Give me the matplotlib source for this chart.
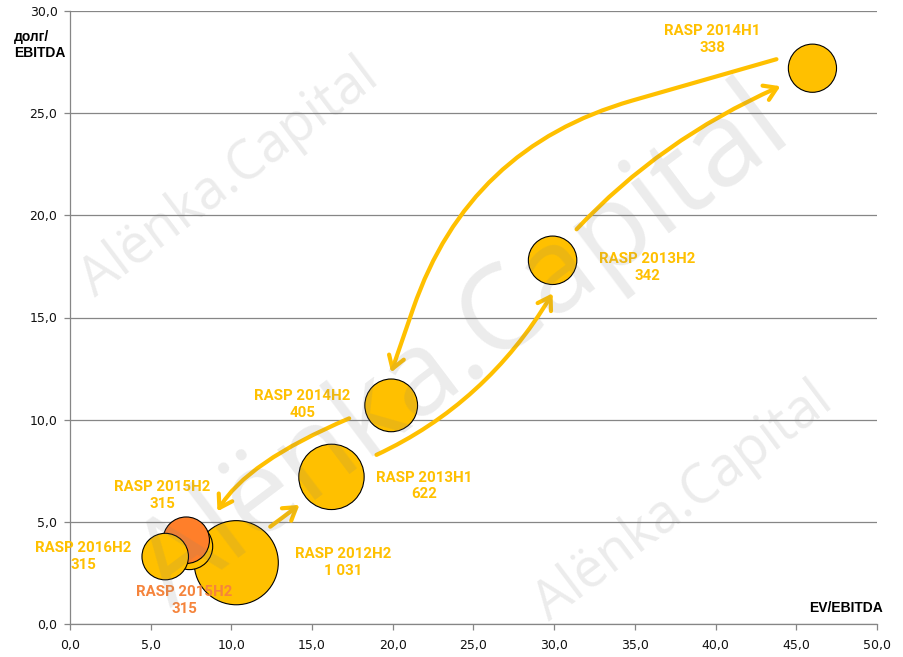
import numpy as np
import matplotlib
matplotlib.use('Agg')
import matplotlib.pyplot as plt
from matplotlib.ticker import FuncFormatter, MultipleLocator
from matplotlib.transforms import offset_copy

# ------------ data ------------
labels = ['RASP 2012H2', 'RASP 2013H1', 'RASP 2013H2', 'RASP 2014H1',
          'RASP 2014H2', 'RASP 2015H2', 'RASP 2015H2', 'RASP 2016H2']
caps = ['1 031', '622', '342', '338', '405', '315', '315', '315']
ev_ebitda = [10.3, 16.2, 29.9, 46.0, 19.9, 7.4, 7.2, 5.9]
debt_ebitda = [3.0, 7.2, 17.8, 27.2, 10.7, 3.8, 4.1, 3.3]
cap_values = [1031, 622, 342, 338, 405, 315, 315, 315]

YELLOW = '#FFC000'
ORANGE = '#FF7F2A'
ORANGE_TXT = '#F5843C'
colors = [YELLOW] * 6 + [ORANGE, YELLOW]
txt_colors = [YELLOW] * 6 + [ORANGE_TXT, YELLOW]
# label offsets from the bubble, pixels
lab_off = [(107, 0), (93, -9), (95, -7), (-100, 29),
           (-89, 1), (-27, 51), (-2, -60), (-82, 0)]

# arrows: from idx, to idx, start offset, end offset (pixels), connection
arrows = [
    (0, 1, (34, 36), (-32, -28), 'arc3,rad=0'),
    (1, 2, (45, 22), (0, -33), 'angle3,angleA=25,angleB=59'),
    (2, 3, (24, 31), (-32, -18), 'angle3,angleA=47,angleB=24'),
    (3, 4, (-36, 9), (0, 33), 'angle,angleA=196,angleB=251,rad=170'),
    (4, 5, (-42, -13), (28, 35), 'angle3,angleA=203,angleB=240'),
]

fig = plt.figure(figsize=(9.04, 6.57), dpi=100)
ax = fig.add_axes([70 / 904, 1 - 624 / 657, 807 / 904, 613 / 657])

ax.set_xlim(0, 50)
ax.set_ylim(0, 30)
ax.xaxis.set_major_locator(MultipleLocator(5))
ax.yaxis.set_major_locator(MultipleLocator(5))
fmt = FuncFormatter(lambda v, p: ('%.1f' % v).replace('.', ','))
ax.xaxis.set_major_formatter(fmt)
ax.yaxis.set_major_formatter(fmt)

grey = '#868686'
for s in ['top', 'right']:
    ax.spines[s].set_visible(False)
for s in ['left', 'bottom']:
    ax.spines[s].set_color(grey)
    ax.spines[s].set_linewidth(0.9)
ax.grid(axis='y', color=grey, lw=0.9)
ax.set_axisbelow(True)
ax.tick_params(axis='both', colors=grey, length=4, width=0.9, labelsize=9,
               labelcolor='#111111')
ax.tick_params(axis='x', pad=7)
ax.tick_params(axis='y', pad=5)

# bubbles, area ~ value
ax.scatter(ev_ebitda, debt_ebitda, s=np.array(cap_values) * 3.56, c=colors,
           edgecolors='black', linewidths=0.8, zorder=3)

for i in range(len(labels)):
    ax.annotate(labels[i] + '\n' + caps[i], (ev_ebitda[i], debt_ebitda[i]),
                xytext=lab_off[i], textcoords='offset pixels',
                ha='center', va='center', color=txt_colors[i],
                fontsize=10.8, fontweight='bold', family='Roboto',
                linespacing=1.25, zorder=4)

for a, b, offA, offB, cs in arrows:
    trA = offset_copy(ax.transData, fig=fig, x=offA[0], y=offA[1], units='dots')
    trB = offset_copy(ax.transData, fig=fig, x=offB[0], y=offB[1], units='dots')
    ax.annotate('', xy=(ev_ebitda[b], debt_ebitda[b]), xycoords=trB,
                xytext=(ev_ebitda[a], debt_ebitda[a]), textcoords=trA,
                arrowprops=dict(arrowstyle='->,head_length=0.55,head_width=0.35',
                                connectionstyle=cs, color=YELLOW, lw=3,
                                shrinkA=0, shrinkB=0, mutation_scale=16,
                                capstyle='round', joinstyle='round'),
                zorder=5)

# axis titles
fig.text(14 / 904, 1 - 30 / 657, 'долг/\nEBITDA', ha='left', va='top',
         fontsize=10, fontweight='bold', family='Liberation Sans', linespacing=1.2)
fig.text(883 / 904, 1 - 608 / 657, 'EV/EBITDA', ha='right', va='center',
         fontsize=10, fontweight='bold', family='Liberation Sans')

# watermark
for (px, py), size in [((238, 190), 39), ((483, 374), 85), ((692, 514), 39)]:
    fig.text(px / 904, 1 - py / 657, 'Alënka.Capital', ha='center', va='baseline',
             rotation=37, rotation_mode='anchor', fontsize=size,
             family='Open Sans', color='#7f7f7f', alpha=0.15, zorder=10)

fig.savefig('out.png', dpi=100)
